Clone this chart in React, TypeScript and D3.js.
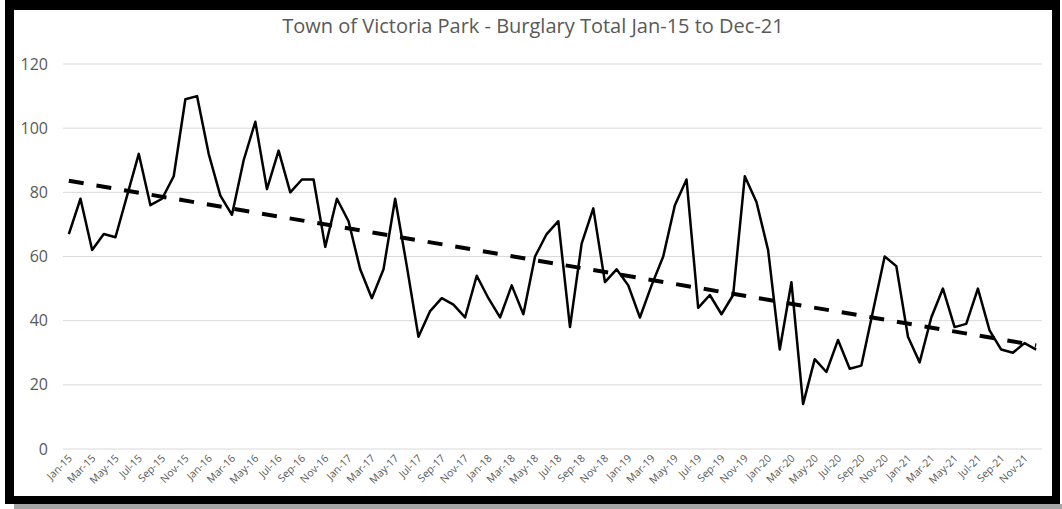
import React from "react";
import * as d3 from "d3";

const TITLE = "Town of Victoria Park - Burglary Total Jan-15 to Dec-21";
const MONTHS = ["Jan", "Feb", "Mar", "Apr", "May", "Jun", "Jul", "Aug", "Sep", "Oct", "Nov", "Dec"];
const YEARS = ["15", "16", "17", "18", "19", "20", "21"];

const values2015 = [67, 78, 62, 67, 66, 79, 92, 76, 78, 85, 109, 110];
const values2016 = [92, 79, 73, 90, 102, 81, 93, 80, 84, 84, 63, 78];
const values2017 = [71, 56, 47, 56, 78, 57, 35, 43, 47, 45, 41, 54];
const values2018 = [47, 41, 51, 42, 60, 67, 71, 38, 64, 75, 52, 56];
const values2019 = [51, 41, 51, 60, 76, 84, 44, 48, 42, 48, 85, 77];
const values2020 = [62, 31, 52, 14, 28, 24, 34, 25, 26, 43, 60, 57];
const values2021 = [35, 27, 41, 50, 38, 39, 50, 37, 31, 30, 33, 31];

const Y_TICKS = [0, 20, 40, 60, 80, 100, 120];

const categories: string[] = YEARS.flatMap((y) => MONTHS.map((m) => `${m}-${y}`));
const values: number[] = [
  ...values2015,
  ...values2016,
  ...values2017,
  ...values2018,
  ...values2019,
  ...values2020,
  ...values2021,
];

export default function App() {
  const W = 1062;
  const H = 509;
  const plotLeft = 63;
  const plotRight = 1042;
  const plotTop = 64;
  const plotBottom = 449;

  const x = d3
    .scaleBand<string>()
    .domain(categories)
    .range([plotLeft, plotRight])
    .padding(0);
  const cx = (c: string) => (x(c) as number) + x.bandwidth() / 2;
  const y = d3.scaleLinear().domain([0, 120]).range([plotBottom, plotTop]);

  const data = categories.map((c, i) => ({ c, i, v: values[i] }));

  // linear trendline (least squares)
  const n = data.length;
  const mx = d3.mean(data, (d) => d.i + 1) as number;
  const my = d3.mean(data, (d) => d.v) as number;
  const sxy = d3.sum(data, (d) => (d.i + 1 - mx) * (d.v - my));
  const sxx = d3.sum(data, (d) => (d.i + 1 - mx) ** 2);
  const slope = sxy / sxx;
  const intercept = my - slope * mx;
  const trend = [data[0], data[n - 1]].map((d) => ({ c: d.c, v: intercept + slope * (d.i + 1) }));

  const line = d3
    .line<{ c: string; v: number }>()
    .x((d) => cx(d.c))
    .y((d) => y(d.v));

  const font = "'Open Sans', 'Noto Sans', sans-serif";

  return (
    <svg
      width={W}
      height={H}
      style={{ position: "absolute", left: 0, top: 0, display: "block" }}
      fontFamily={font}
    >
      <rect x={0} y={0} width={W} height={H} fill="#ffffff" />
      <rect x={14} y={504} width={1048} height={5} fill="#a6a6a6" />
      <rect x={5} y={0} width={1055} height={504} fill="#000000" />
      <rect x={14} y={10} width={1038} height={486} fill="#ffffff" />

      <text x={533} y={33} textAnchor="middle" fontSize={20} fill="#595959">
        {TITLE}
      </text>

      {Y_TICKS.map((t) => (
        <g key={t}>
          <line x1={plotLeft} x2={plotRight} y1={y(t)} y2={y(t)} stroke="#d9d9d9" strokeWidth={1} />
          <text x={48} y={y(t)} dy="0.35em" textAnchor="end" fontSize={16} fill="#595959">
            {t}
          </text>
        </g>
      ))}

      {categories.map((c, i) =>
        i % 2 === 0 ? (
          <text
            key={c}
            transform={`translate(${cx(c) + 4},${459}) rotate(-45)`}
            textAnchor="end"
            fontSize={10.5}
            fill="#595959"
          >
            {c}
          </text>
        ) : null
      )}

      <path d={line(data) as string} fill="none" stroke="#000000" strokeWidth={2.5} strokeLinejoin="round" />
      <path
        d={line(trend) as string}
        fill="none"
        stroke="#000000"
        strokeWidth={4}
        strokeDasharray="15 13"
      />
    </svg>
  );
}
